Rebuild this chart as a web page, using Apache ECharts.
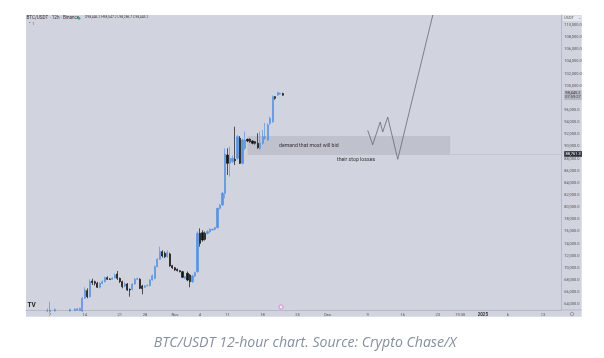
<!DOCTYPE html>
<html>
<head>
<meta charset="utf-8">
<style>
    html,body{margin:0;padding:0;background:#fff;}
    #chart{position:absolute;left:0;top:0;width:604px;height:358px;filter:blur(0.55px);}
    #caption{position:absolute;left:0;top:331.5px;width:610px;text-align:center;font:italic 14.1px "Open Sans","Noto Sans",sans-serif;color:#858f9e;}
</style>
</head>
<body>
<div id="chart"></div>
<div id="caption">BTC/USDT 12-hour chart. Source: Crypto Chase/X</div>
<script src="https://cdn.jsdelivr.net/npm/echarts@6/dist/echarts.min.js"></script>
<script>
// x axis: one slot per 12h candle
const slotCount = 214;
const tickSlots = [9,23,37,47,59,69,80,94,108,120,136,150,164,173,182,192,206];
const tickLabels = ['7','14','21','28','Nov','4','11','18','25','Dec','9','16','23','19:30','2025','6','13'];
const priceTicks = [64000,66000,68000,70000,72000,74000,76000,78000,80000,82000,84000,86000,88000,90000,92000,94000,96000,100000,102000,104000,106000,108000,110000];
const lastPrice = 98445.2;
const markPrice = 88761.3;

const preSlots = [8,9,11,17,19,20,21];
const opens = [62900,62800,62900,62900,62950,63000,62950,
    62900,64983,66245,65257,67837,67727,67453,66794,67453,67727,68386,68167,68112,68331,68990,68277,67727,67014,67343,66465,66465,67343,68112,68112,67014,66794,67014,67069,68002,68277,70198,71406,72669,72394,71845,72284,70363,70033,69759,69539,69375,68277,69100,68825,67727,68661,69375,75688,75798,75688,75688,75963,76237,76347,76621,
    79806,80355,82276,88590,87217,87492,87876,88041,91334,87217,89688,91170,91170,90895,90785,90511,89688,90511,91334,91060,93805,94080,98197,98471,98636,98700];
const closes = [63000,63050,63150,63150,63200,63250,63300,
    64983,66355,65257,67727,67563,67453,66794,67453,67727,68386,68112,68112,68331,68825,68277,67727,66904,67343,66355,66355,67343,68112,68222,66630,66575,67014,67124,68002,68716,70198,71406,72669,71955,71845,72504,70308,70033,69649,69539,69375,68441,68551,68002,67727,68661,69210,75688,74041,74590,74700,75963,76347,76347,76621,79806,
    80355,82276,88754,87217,88041,88041,87656,91609,87217,91060,91060,90895,90785,90511,90511,89797,90511,91609,91609,93531,94628,98197,97922,98856,98746,98445];
const lows = [62700,62600,62800,62800,62900,62900,62900,
    62700,64900,64983,65100,67178,67100,66684,66600,67300,67600,68000,68000,68000,68250,68002,67500,66630,66800,66200,65257,66300,67200,68000,66500,65641,66700,66950,66950,67900,68100,70100,71300,71700,71600,71700,70200,69800,69500,69400,69250,68300,68100,67800,66794,67500,68500,69200,73492,74300,74500,75500,75800,76200,76200,76500,
    79600,80200,81450,85296,85021,87300,86942,87800,87100,87000,89413,90700,90600,90350,90300,89600,89413,90300,91100,90900,93500,93900,97700,98300,98500,98350];
const highs = [63300,64430,63300,63250,63350,63400,63450,
    65200,66800,66630,68112,68222,67900,67700,67600,67950,68550,68600,68300,68450,69100,69484,68400,67900,67600,67500,66600,67500,68300,68400,68300,67200,67150,67250,68150,68900,70400,71600,73492,72900,72700,72900,72500,70500,70150,69900,69650,69500,68700,69400,69000,68900,69400,76000,76512,76200,76000,76200,76500,76450,76750,79900,
    80500,82500,89688,89688,89962,88500,93256,91884,91700,91300,92433,91300,91350,91000,90900,92158,92433,92707,93860,93800,94900,98400,98300,99000,98900,98850];

// drawn projection and demand zone
const pathSlots = [136,138,141,142,144,148,162];
const pathPrices = [92658,90286,94024,92378,94847,87882,111650];
const zoneSlots = [88,169];
const zonePrices = [91719,88600];

const candleSlots = preSlots.concat(opens.slice(preSlots.length).map((_, k) => 22 + k));
const categories = [];
for (let i = 0; i < slotCount; i++) {
    const at = tickSlots.indexOf(i);
    categories.push(at >= 0 ? tickLabels[at] : '');
}
const candleRows = opens.map((o, i) => [candleSlots[i], o, closes[i], lows[i], highs[i]]);
const pathRows = pathSlots.map((s, i) => [s, pathPrices[i]]);

const chart = echarts.init(document.getElementById('chart'));
const font = 'Roboto, sans-serif';
chart.setOption({
    animation: false,
    textStyle: {fontFamily: font},
    grid: {left: 26, right: 42.3, top: 15, bottom: 48},
    xAxis: {
        type: 'category',
        data: categories,
        axisLine: {lineStyle: {color: '#b5b9c7'}},
        axisTick: {show: false},
        splitLine: {show: false},
        axisLabel: {
            interval: 0, margin: 2.5, fontSize: 4, color: '#555',
            formatter: v => v === '2025' ? '{b|' + v + '}' : v,
            rich: {b: {fontSize: 4.5, fontWeight: 'bold', color: '#333'}}
        }
    },
    yAxis: {
        type: 'value',
        position: 'right',
        min: 63060,
        max: 111650,
        scale: true,
        splitLine: {show: false},
        axisLine: {show: true, lineStyle: {color: '#b5b9c7'}},
        axisTick: {show: false},
        axisLabel: {
            customValues: priceTicks.concat([lastPrice, markPrice]),
            margin: 2.5, fontSize: 4, color: '#555',
            formatter: v => {
                const s = v.toLocaleString('en-US', {minimumFractionDigits: 1, maximumFractionDigits: 1});
                if (v === lastPrice) return '{last|' + s + '}\n{last|07:59:27}';
                if (v === markPrice) return '{mark|' + s + '}';
                return s;
            },
            rich: {
                last: {fontSize: 4, color: '#444', backgroundColor: '#b3b6c1', padding: [0.5, 1], lineHeight: 4.6},
                mark: {fontSize: 4, color: '#fff', backgroundColor: '#2a2e39', padding: [0.8, 1.2]}
            }
        }
    },
    series: [
        {
            type: 'candlestick',
            data: candleRows,
            encode: {x: 0, y: [1, 2, 3, 4]},
            barWidth: 1.6,
            itemStyle: {color: '#5a93de', color0: '#141414', borderColor: '#5a93de', borderColor0: '#141414', borderWidth: 0.7},
            markArea: {
                silent: true,
                itemStyle: {color: '#bfc2cd'},
                data: [[{xAxis: zoneSlots[0], yAxis: zonePrices[0]}, {xAxis: zoneSlots[1], yAxis: zonePrices[1]}]]
            },
            markLine: {
                silent: true,
                symbol: 'none',
                label: {show: false},
                lineStyle: {color: '#c4c7d2', width: 1, type: 'solid'},
                data: [[{xAxis: zoneSlots[1], yAxis: markPrice}, {xAxis: slotCount - 1, yAxis: markPrice}]]
            }
        },
        {
            type: 'line',
            data: pathRows,
            showSymbol: false,
            lineStyle: {color: '#666972', width: 0.8}
        }
    ],
    graphic: [
        {type: 'rect', z: -1, silent: true, shape: {x: 26, y: 15, width: 555.7, height: 301.7}, style: {fill: '#d1d4de'}},
        {type: 'line', z: 1, silent: true, shape: {x1: 561, y1: 310, x2: 581.7, y2: 310}, style: {stroke: '#b5b9c7'}},
        {type: 'text', z: 10, x: 26.5, y: 15.7, style: {text: 'BTC/USDT · 12h · Binance', font: '4.6px ' + font, fill: '#333'}},
        {type: 'circle', z: 10, shape: {cx: 79, cy: 18.3, r: 1.4}, style: {fill: '#26b090'}},
        {type: 'text', z: 10, x: 85, y: 16, style: {text: 'O98,446.2 H98,547.2 L98,286.7 C98,445.2', font: '3.4px ' + font, fill: '#444'}},
        {type: 'text', z: 10, x: 28, y: 22, style: {text: '⌃ 1', font: '4px ' + font, fill: '#555'}},
        {type: 'text', z: 10, x: 279, y: 143, style: {text: 'demand that most will bid', font: '5.2px ' + font, fill: '#333'}},
        {type: 'text', z: 10, x: 337, y: 157, style: {text: 'their stop losses', font: '5.2px ' + font, fill: '#333'}},
        {type: 'text', z: 10, x: 27.5, y: 301.5, style: {text: 'TV', font: 'bold 6.5px ' + font, fill: '#222'}},
        {type: 'circle', z: 10, shape: {cx: 281, cy: 307, r: 2.1}, style: {fill: '#eef0f4', stroke: '#d873cf', lineWidth: 0.8}},
        {type: 'rect', z: 10, shape: {x: 563, y: 15.7, width: 18, height: 5.3}, style: {fill: '#e4e6ec'}},
        {type: 'text', z: 11, x: 564, y: 16.3, style: {text: 'USDT', font: '4px ' + font, fill: '#555'}},
        {type: 'text', z: 11, x: 577.5, y: 16.3, style: {text: '⌄', font: '4px ' + font, fill: '#777'}},
        {type: 'circle', z: 10, shape: {cx: 572, cy: 314, r: 1.8}, style: {fill: 'transparent', stroke: '#777', lineWidth: 0.6}}
    ]
});
</script>
</body>
</html>
